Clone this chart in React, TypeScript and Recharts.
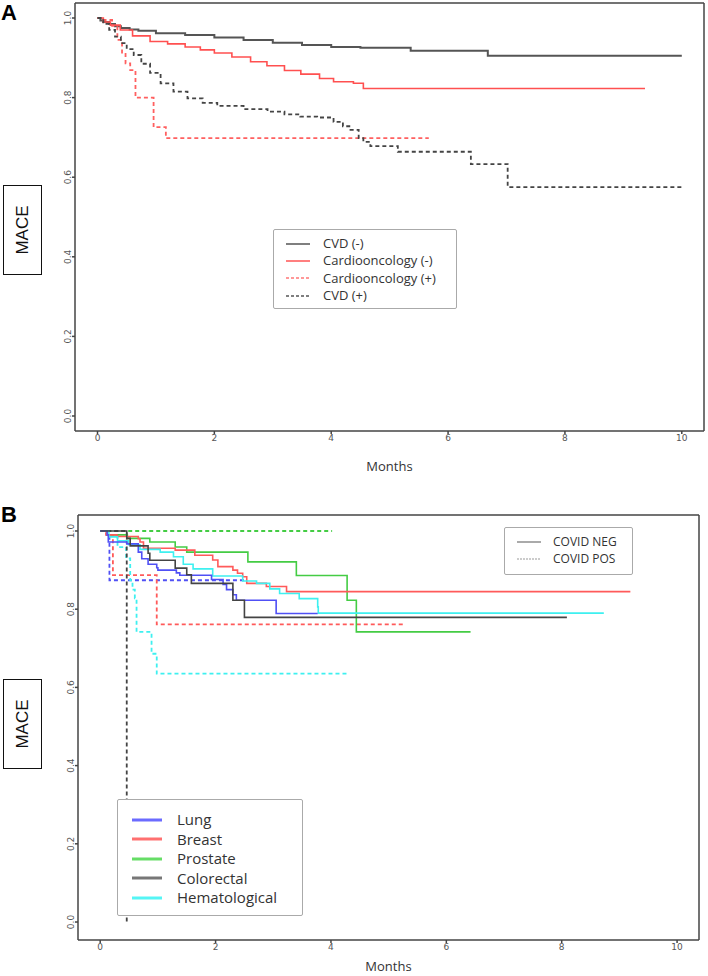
import React from 'react';
import { LineChart, Line, XAxis, YAxis } from 'recharts';

// ---- Panel A: survival curves (month, MACE-free fraction) ----
const cvdNeg = [
  [0, 1], [0.05, 0.994], [0.1, 0.99], [0.2, 0.985], [0.3, 0.979], [0.4, 0.975], [0.55, 0.971],
  [0.7, 0.968], [1.0, 0.962], [1.5, 0.957], [2.0, 0.951], [2.5, 0.945], [3.0, 0.938],
  [3.5, 0.932], [4.0, 0.927], [4.5, 0.925], [5.36, 0.918], [6.68, 0.905], [10.0, 0.905],
];
const cardioNeg = [
  [0, 1], [0.1, 0.99], [0.22, 0.982], [0.39, 0.97], [0.6, 0.955], [0.9, 0.941], [1.2, 0.935],
  [1.5, 0.927], [1.76, 0.92], [2.0, 0.912], [2.3, 0.902], [2.62, 0.89], [2.9, 0.88], [3.2, 0.868],
  [3.48, 0.859], [3.8, 0.848], [4.04, 0.84], [4.38, 0.836], [4.55, 0.823], [9.37, 0.823],
];
const cardioPos = [
  [0, 1], [0.1, 0.995], [0.25, 0.98], [0.34, 0.945], [0.42, 0.91], [0.48, 0.886], [0.56, 0.869],
  [0.65, 0.8], [0.96, 0.726], [1.17, 0.698], [5.67, 0.698],
];
const cvdPos = [
  [0, 1], [0.1, 0.985], [0.2, 0.97], [0.3, 0.953], [0.4, 0.937], [0.5, 0.922], [0.62, 0.907],
  [0.75, 0.885], [0.9, 0.862], [1.08, 0.836], [1.3, 0.815], [1.54, 0.798], [1.8, 0.787],
  [2.05, 0.779], [2.5, 0.771], [2.91, 0.765], [3.2, 0.758], [3.47, 0.752], [3.76, 0.75],
  [4.04, 0.739], [4.2, 0.728], [4.33, 0.719], [4.47, 0.698], [4.55, 0.689], [4.67, 0.678],
  [5.14, 0.664], [6.39, 0.633], [7.02, 0.575], [10.0, 0.575],
];

// ---- Panel B: by cancer type, COVID negative (solid) / positive (dashed) ----
const lungNeg = [
  [0, 1], [0.12, 0.99], [0.14, 0.972], [0.46, 0.967], [0.66, 0.946], [0.72, 0.929], [0.83, 0.915],
  [0.98, 0.906], [1.0, 0.9], [1.32, 0.893], [1.38, 0.887], [1.93, 0.876], [2.13, 0.863],
  [2.19, 0.85], [2.3, 0.837], [2.36, 0.823], [3.05, 0.789], [3.77, 0.789],
];
const breastNeg = [
  [0, 1], [0.12, 0.99], [0.29, 0.986], [0.66, 0.98], [0.69, 0.972], [0.75, 0.956], [1.3, 0.951],
  [1.64, 0.938], [1.95, 0.926], [2.04, 0.909], [2.3, 0.9], [2.38, 0.892], [2.47, 0.883],
  [2.54, 0.866], [2.88, 0.858], [3.23, 0.845], [9.19, 0.845],
];
const prostateNeg = [
  [0, 1], [0.12, 0.99], [0.47, 0.981], [0.86, 0.972], [1.3, 0.959], [1.5, 0.946], [2.56, 0.921],
  [3.4, 0.886], [4.28, 0.823], [4.44, 0.742], [6.42, 0.742],
];
const colorectalNeg = [
  [0, 1], [0.46, 0.981], [0.52, 0.962], [0.83, 0.943], [0.86, 0.925], [1.3, 0.905], [1.5, 0.888],
  [1.58, 0.866], [2.3, 0.823], [2.5, 0.779], [8.09, 0.779],
];
const hematoNeg = [
  [0, 1], [0.15, 0.985], [0.3, 0.975], [0.49, 0.965], [0.69, 0.953], [1.04, 0.946], [1.27, 0.934],
  [1.44, 0.915], [1.61, 0.903], [1.95, 0.885], [2.47, 0.872], [2.71, 0.866], [2.94, 0.852],
  [3.11, 0.84], [3.45, 0.827], [3.77, 0.806], [3.78, 0.79], [8.73, 0.79],
];
const prostatePos = [[0, 1], [4.02, 1]];
const lungPos = [[0, 1], [0.12, 0.99], [0.16, 0.874], [2.5, 0.874]];
const breastPos = [[0, 1], [0.1, 0.99], [0.22, 0.887], [0.98, 0.761], [5.27, 0.761]];
const colorectalPos = [[0, 1], [0.46, 0]];
const hematoPos = [
  [0, 1], [0.3, 0.959], [0.45, 0.93], [0.52, 0.874], [0.56, 0.85], [0.6, 0.828], [0.63, 0.742],
  [0.89, 0.686], [0.98, 0.635], [4.32, 0.635],
];

const xTicks = [0, 2, 4, 6, 8, 10];
const yTicks = [0, 0.2, 0.4, 0.6, 0.8, 1.0];

const legendA = [
  { name: 'CVD (-)', color: '#555555', dash: '' },
  { name: 'Cardiooncology (-)', color: '#ff5555', dash: '' },
  { name: 'Cardiooncology (+)', color: '#ff7777', dash: '3 2' },
  { name: 'CVD (+)', color: '#555555', dash: '3 2' },
];
const legendCovid = [
  { name: 'COVID NEG', color: '#aaaaaa', dash: '' },
  { name: 'COVID POS', color: '#cccccc', dash: '2 1' },
];
const legendCancer = [
  { name: 'Lung', color: '#6b6bff' },
  { name: 'Breast', color: '#ff7070' },
  { name: 'Prostate', color: '#66dd66' },
  { name: 'Colorectal', color: '#777777' },
  { name: 'Hematological', color: '#55f5f5' },
];

const C = {
  lung: '#5050f5',
  breast: '#ff5a5a',
  prostate: '#44cc44',
  colorectal: '#444444',
  hemato: '#3ef0f0',
  frame: '#444444',
  tick: '#555555',
};

const X_DOMAIN: [number, number] = [-0.385, 10.38];
const toPts = (arr: number[][]) => arr.map(([t, s]) => ({ t, s }));

const RotTick = (props: any) => {
  const { x, y, payload } = props;
  return (
    <text
      x={x}
      y={y}
      transform={`rotate(-90 ${x} ${y})`}
      textAnchor="middle"
      fontSize={9}
      fill={C.tick}
      fontFamily="DejaVu Sans"
    >
      {Number(payload.value).toFixed(1)}
    </text>
  );
};

function series(data: number[][], color: string, dashed: boolean, key: string, width = 2) {
  return (
    <Line
      key={key}
      data={toPts(data)}
      dataKey="s"
      type="stepAfter"
      stroke={color}
      strokeWidth={width}
      strokeDasharray={dashed ? '4 3' : undefined}
      dot={false}
      activeDot={false}
      isAnimationActive={false}
    />
  );
}

// bottom/left axes carry ticks; top/right axes only close the frame
function axes(yDomain: [number, number], xAxisH: number, labelOffset: number) {
  return [
    <XAxis
      key="xb"
      dataKey="t"
      type="number"
      domain={X_DOMAIN}
      allowDataOverflow
      ticks={xTicks}
      height={xAxisH}
      tickSize={3}
      tickMargin={1}
      tick={{ fontSize: 9, fill: C.tick, fontFamily: 'DejaVu Sans' }}
      stroke={C.frame}
      strokeWidth={1.5}
      label={{
        value: 'Months',
        position: 'insideBottom',
        offset: labelOffset,
        style: { fontSize: 13, fill: '#333', fontFamily: 'Open Sans' },
      }}
    />,
    <XAxis
      key="xt"
      xAxisId="top"
      orientation="top"
      type="number"
      domain={X_DOMAIN}
      allowDataOverflow
      height={1}
      tick={false}
      tickLine={false}
      stroke={C.frame}
      strokeWidth={1.5}
    />,
    <YAxis
      key="yl"
      type="number"
      domain={yDomain}
      allowDataOverflow
      ticks={yTicks}
      width={40}
      tickSize={3}
      tickMargin={1}
      tick={<RotTick />}
      stroke={C.frame}
      strokeWidth={1.5}
    />,
    <YAxis
      key="yr"
      yAxisId="right"
      orientation="right"
      type="number"
      domain={yDomain}
      allowDataOverflow
      width={1}
      tick={false}
      tickLine={false}
      stroke={C.frame}
      strokeWidth={1.5}
    />,
  ];
}

const Sample = ({ color, dash, w = 24, sw = 1.5 }: any) => (
  <svg width={w} height={8} style={{ display: 'block' }}>
    <line x1={0} y1={4} x2={w} y2={4} stroke={color} strokeWidth={sw} strokeDasharray={dash || undefined} />
  </svg>
);

const boxStyle: React.CSSProperties = {
  position: 'absolute',
  background: '#fff',
  border: '1.5px solid #aaa',
  borderRadius: 2,
  fontFamily: 'Open Sans',
  color: '#333',
  boxSizing: 'border-box',
};

const MaceBox = ({ top }: { top: number }) => (
  <div
    style={{
      position: 'absolute',
      left: 3,
      top,
      width: 39,
      height: 90,
      border: '1.5px solid #111',
      boxSizing: 'border-box',
      display: 'flex',
      alignItems: 'center',
      justifyContent: 'center',
    }}
  >
    <div style={{ transform: 'rotate(-90deg)', fontFamily: 'Liberation Sans', fontSize: 17, color: '#111' }}>
      MACE
    </div>
  </div>
);

export default function App() {
  const yA: [number, number] = [-0.0377, 1.0377];
  const yB: [number, number] = [-0.046, 1.0409];
  return (
    <div style={{ position: 'absolute', left: 0, top: 0, width: 708, height: 976, background: '#fff' }}>
      <div style={{ position: 'absolute', left: 0, top: 0 }}>
        <LineChart width={708} height={480} margin={{ top: 2, right: 3, left: 35, bottom: 4 }}>
          {axes(yA, 45, 5)}
          {series(cvdNeg, '#555555', false, 'cvdNeg', 2)}
          {series(cardioNeg, '#ff5050', false, 'cardioNeg', 1.6)}
          {series(cardioPos, '#ff6060', true, 'cardioPos', 1.8)}
          {series(cvdPos, '#444444', true, 'cvdPos', 1.8)}
        </LineChart>
      </div>

      <div style={{ position: 'absolute', left: 0, top: 500 }}>
        <LineChart width={708} height={476} margin={{ top: 14, right: 8, left: 38, bottom: 0 }}>
          {axes(yB, 36, 5)}
          {series(prostatePos, C.prostate, true, 'prostatePos', 1.8)}
          {series(lungPos, C.lung, true, 'lungPos', 1.8)}
          {series(breastPos, C.breast, true, 'breastPos', 1.8)}
          {series(hematoPos, C.hemato, true, 'hematoPos', 1.8)}
          {series(colorectalPos, C.colorectal, true, 'colorectalPos', 1.8)}
          {series(prostateNeg, C.prostate, false, 'prostateNeg', 1.6)}
          {series(breastNeg, C.breast, false, 'breastNeg', 1.6)}
          {series(hematoNeg, C.hemato, false, 'hematoNeg', 1.6)}
          {series(lungNeg, C.lung, false, 'lungNeg', 1.6)}
          {series(colorectalNeg, C.colorectal, false, 'colorectalNeg', 1.6)}
        </LineChart>
      </div>

      {/* panel letters */}
      <div style={{ position: 'absolute', left: 1, top: 0, fontFamily: 'Liberation Sans', fontWeight: 'bold', fontSize: 22 }}>A</div>
      <div style={{ position: 'absolute', left: 1, top: 502, fontFamily: 'Liberation Sans', fontWeight: 'bold', fontSize: 22 }}>B</div>

      <MaceBox top={185} />
      <MaceBox top={679} />

      {/* legend A */}
      <div style={{ ...boxStyle, left: 273, top: 229, width: 184, height: 80, padding: '5px 0 0 12px' }}>
        {legendA.map((d) => (
          <div key={d.name} style={{ display: 'flex', alignItems: 'center', height: 17.3, lineHeight: '17px', fontSize: 13 }}>
            <Sample color={d.color} dash={d.dash} w={24} />
            <span style={{ marginLeft: 13 }}>{d.name}</span>
          </div>
        ))}
      </div>

      {/* legend B: COVID status */}
      <div style={{ ...boxStyle, left: 504, top: 527, width: 129, height: 48, padding: '6px 0 0 12px' }}>
        {legendCovid.map((d) => (
          <div key={d.name} style={{ display: 'flex', alignItems: 'center', height: 16.5, lineHeight: '16px', fontSize: 12 }}>
            <Sample color={d.color} dash={d.dash} w={24} sw={2} />
            <span style={{ marginLeft: 12 }}>{d.name}</span>
          </div>
        ))}
      </div>

      {/* legend B: cancer type */}
      <div style={{ ...boxStyle, left: 117, top: 799, width: 186, height: 117, padding: '10px 0 0 14px' }}>
        {legendCancer.map((d) => (
          <div key={d.name} style={{ display: 'flex', alignItems: 'center', height: 19.5, lineHeight: '19px', fontSize: 15 }}>
            <Sample color={d.color} w={30} sw={3} />
            <span style={{ marginLeft: 15 }}>{d.name}</span>
          </div>
        ))}
      </div>
    </div>
  );
}
